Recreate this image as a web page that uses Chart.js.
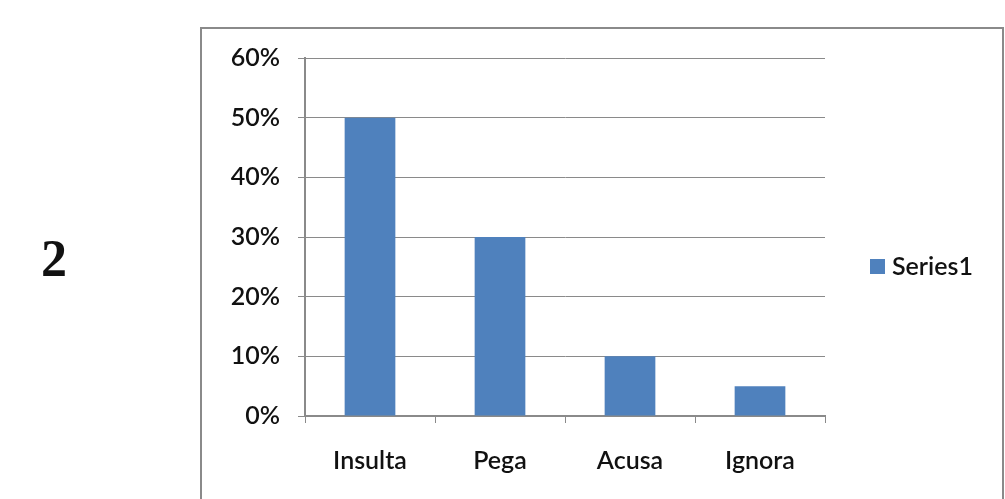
<!DOCTYPE html>
<html><head><meta charset="utf-8">
<script src="https://cdn.jsdelivr.net/npm/chart.js@4/dist/chart.umd.min.js"></script>
<style>html,body{margin:0;padding:0;background:#fff;overflow:hidden}#wrap{width:1005px;height:499px;position:relative}</style>
</head><body><div id="wrap"><canvas id="c" width="1005" height="499"></canvas></div>
<script>
const categories = ["Insulta", "Pega", "Acusa", "Ignora"];
const seriesName = "Series1";
const values = [0.50, 0.30, 0.10, 0.05];
const yTicks = [0, 0.1, 0.2, 0.3, 0.4, 0.5, 0.6];
const sideLabel = "2";

const FONT = "Lato, 'Open Sans', sans-serif";
const barColor = "#4f81bd";

const decor = {
  id: "decor",
  beforeDraw(chart) {
    const ctx = chart.ctx;
    ctx.save();
    ctx.fillStyle = "#fff";
    ctx.fillRect(0, 0, chart.width, chart.height);
    ctx.strokeStyle = "#8a8a8a";
    ctx.lineWidth = 2;
    ctx.strokeRect(201, 28, 802, 520);
    ctx.restore();
  },
  afterDraw(chart) {
    const ctx = chart.ctx;
    ctx.save();
    ctx.fillStyle = "#111";
    ctx.font = "bold 52px 'Liberation Serif', 'Times New Roman', serif";
    ctx.textAlign = "center";
    ctx.textBaseline = "middle";
    ctx.fillText(sideLabel, 54, 263);
    // legend
    const ds = chart.data.datasets[0];
    ctx.fillStyle = ds.backgroundColor;
    ctx.fillRect(870, 259, 15, 15);
    ctx.fillStyle = "#111";
    ctx.font = "600 25px " + FONT;
    ctx.textAlign = "left";
    ctx.fillText(ds.label, 892, 267);
    ctx.restore();
  }
};

new Chart(document.getElementById("c"), {
  type: "bar",
  data: {
    labels: categories,
    datasets: [{ label: seriesName, data: values, backgroundColor: barColor,
      categoryPercentage: 1, barPercentage: 0.39 }]
  },
  options: {
    responsive: false, animation: false,
    layout: { padding: { left: 200, top: 58, right: 180, bottom: 0 } },
    plugins: { legend: { display: false }, tooltip: { enabled: false } },
    scales: {
      x: {
        afterFit(s) { s.height = 83; },
        grid: { offset: true, drawOnChartArea: false, color: "#8a8a8a", tickLength: 7, lineWidth: 1 },
        border: { color: "#8a8a8a", width: 2 },
        ticks: { color: "#111", padding: 23, font: { family: FONT, size: 25, weight: "600" } }
      },
      y: {
        min: 0, max: 0.6,
        afterFit(s) { s.width = 105; },
        afterBuildTicks(s) { s.ticks = yTicks.map(v => ({ value: v })); },
        grid: { color: "#8a8a8a", tickLength: 7, lineWidth: 1 },
        border: { color: "#8a8a8a", width: 2 },
        ticks: { color: "#111", padding: 18, font: { family: FONT, size: 25, weight: "600" },
          callback: v => Math.round(v * 100) + "%" }
      }
    }
  },
  plugins: [decor]
});
</script></body></html>
